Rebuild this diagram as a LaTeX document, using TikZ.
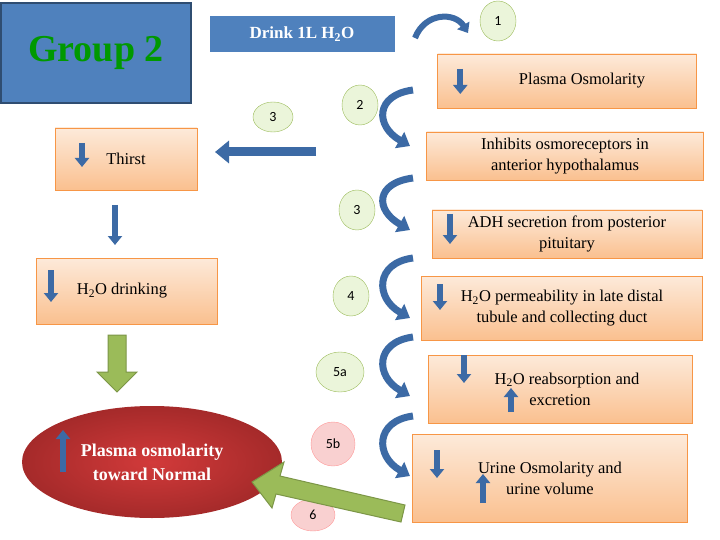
\documentclass[tikz,border=0pt]{standalone}
\usepackage{fontspec}
\setmainfont{Liberation Serif}
\newfontfamily\carfont{Carlito}
\usetikzlibrary{arrows.meta,shapes.geometric}
\definecolor{bluef}{HTML}{4F81BD}
\definecolor{bluea}{HTML}{3C6AA5}
\definecolor{org}{HTML}{F79646}
\definecolor{orgl}{HTML}{FDEADA}
\definecolor{orgd}{HTML}{FAC08F}
\definecolor{gfill}{HTML}{EBF5DA}
\definecolor{gline}{HTML}{9BBB59}
\definecolor{pfill}{HTML}{F9D0D0}
\definecolor{redin}{HTML}{D23A3A}
\definecolor{redout}{HTML}{A52A2A}
\begin{document}
\begin{tikzpicture}[x=1pt,y=-1pt,
 obox/.style={draw=org,top color=orgl,bottom color=orgd,align=center,font=\fontsize{16.5}{21}\selectfont,inner sep=2pt},
 num/.style={ellipse,draw=gline,fill=gfill,font=\carfont\fontsize{14}{16}\selectfont,minimum width=36pt,minimum height=40pt,inner sep=0pt},
 pnum/.style={num,draw=red!40,fill=pfill},
 varr/.style={bluea,line width=6pt,-{Triangle[width=14pt,length=9pt]}},
 curv/.style={bluea,line width=7pt,-{Triangle[width=18pt,length=12pt]}},
 garr/.style={draw=gline!80!black,fill=gline,line width=1pt}]
\useasboundingbox (0,0) rectangle (720,540);
\fill[white] (0,0) rectangle (720,540);
% Group 2
\node[draw=bluef!60!black,line width=1.5pt,fill=bluef,minimum width=190pt,minimum height=100pt,text=green!60!black,font=\bfseries\fontsize{38}{40}\selectfont] (g) at (96,53) {Group 2};
\node[fill=bluef,minimum width=185pt,minimum height=36pt,text=white,font=\bfseries\fontsize{17}{20}\selectfont] (drink) at (302,34) {Drink 1L H\textsubscript{2}O};
\coordinate (c1a) at (415,38); \coordinate (c1b) at (468,33);
\draw[curv,line width=6pt,-{Triangle[width=14pt,length=9pt]}] (c1a) .. controls (425,12) and (455,12) .. (c1b);
\node[num] (n1) at (498,21) {1};
% right boxes
\node[obox,minimum width=259pt,minimum height=54pt] (b1) at (567,81) {\hspace*{30pt}Plasma Osmolarity};
\node[obox,minimum width=277pt,minimum height=48pt] (b2) at (565,156) {Inhibits osmoreceptors in\\anterior hypothalamus};
\node[obox,minimum width=270pt,minimum height=48pt] (b3) at (567,234) {ADH secretion from posterior\\pituitary};
\node[obox,minimum width=281pt,minimum height=64pt] (b4) at (562,308) {H\textsubscript{2}O permeability in late distal\\tubule and collecting duct};
\node[obox,minimum width=264pt,minimum height=68pt] (b5) at (560,389) {\hspace*{14pt}H\textsubscript{2}O reabsorption and\\excretion};
\node[obox,minimum width=275pt,minimum height=88pt] (b6) at (550,478) {Urine Osmolarity and\\urine volume};
\draw[varr] (b1.west)++(23,-12) -- ++(0,25);
\draw[varr] (450,214) -- ++(0,30);
\draw[varr] (440,284) -- ++(0,26);
\draw[varr] (464,355) -- ++(0,28);
\draw[varr] (511,412) -- ++(0,-24);
\draw[varr] (437,450) -- ++(0,28);
\draw[varr] (483,503) -- ++(0,-29);
% left boxes
\node[obox,minimum width=142pt,minimum height=62pt] (th) at (126,159) {Thirst};
\draw[varr] (82,143) -- ++(0,24);
\node[obox,minimum width=181pt,minimum height=66pt] (dr) at (127,291) {\hspace*{-10pt}H\textsubscript{2}O drinking};
\draw[varr] (51,270) -- ++(0,32);
\draw[varr] (115,205) -- ++(0,40);
% numbers
\node[num] (n2) at (360,105) {2};
\node[num,minimum width=40pt,minimum height=30pt] (n3a) at (273,117) {3};
\node[num] (n3b) at (357,210) {3};
\node[num] (n4) at (351,296) {4};
\node[num,minimum width=48pt,minimum height=40pt] (n5a) at (340,372) {5a};
\node[pnum,minimum width=44pt,minimum height=44pt] (n5b) at (333,444) {5b};
\node[pnum,minimum width=44pt,minimum height=32pt] (n6) at (313,515) {6};
% curved arrows
\foreach \t/\b in {90/146,178/230,258/318,337/396,416/476}{
 \draw[curv] (413,\t) .. controls (375,\t+5) and (375,\b-20) .. (410,\b);}
% left arrow
\coordinate (la) at (316,152); \coordinate (lb) at (215,152);
\draw[bluea,line width=9pt,-{Triangle[width=22pt,length=14pt]}] (la) -- (lb);
% ellipse
\node[ellipse,shading=radial,inner color=redin,outer color=redout,minimum width=260pt,minimum height=112pt,text=white,align=center,font=\bfseries\fontsize{18}{24}\selectfont] (pl) at (152,462) {Plasma osmolarity\\toward Normal};
\draw[varr] (63,472) -- ++(0,-42);
% green arrows
\draw[garr] (108,335) -- (126,335) -- (126,372) -- (137,372) -- (117,392) -- (97,372) -- (108,372) -- cycle;
\draw[garr] (405,505) -- (280,476) -- (284,462) -- (252,482) -- (272,508) -- (276,494) -- (401,522) -- cycle;
\end{tikzpicture}
\end{document}
